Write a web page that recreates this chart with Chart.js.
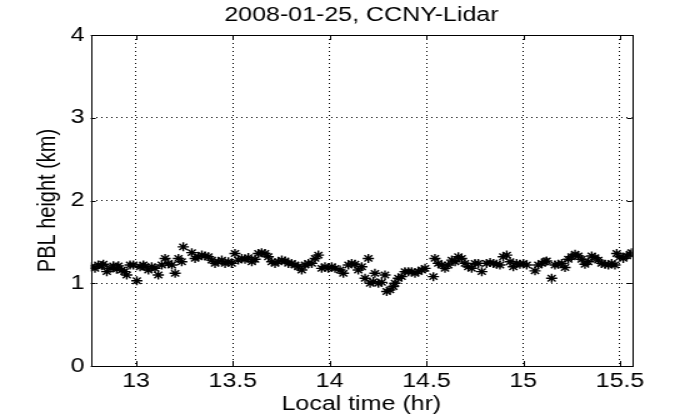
<!DOCTYPE html>
<html><head><meta charset="utf-8">
<script src="https://cdn.jsdelivr.net/npm/chart.js@4/dist/chart.umd.min.js"></script>
<style>
html,body{margin:0;padding:0;background:#fff;overflow:hidden;}
#wrap{width:560px;height:420px;transform:scaleX(1.25);transform-origin:0 0;}
canvas{display:block;}
</style></head><body>
<div id="wrap"><canvas id="c" width="560" height="420"></canvas></div>
<script>
const titleText = '2008-01-25, CCNY-Lidar';
const xLabel = 'Local time (hr)';
const yLabel = 'PBL height (km)';
const xTickValues = [13, 13.5, 14, 14.5, 15, 15.5];
const yTickValues = [0, 1, 2, 3, 4];
const times = [
 12.770,12.788,12.805,12.823,12.831,12.849,12.866,12.883,12.900,12.909,12.926,12.940,12.952,12.969,12.986,
 13.004,13.021,13.038,13.046,13.064,13.081,13.098,13.115,13.133,13.150,13.167,13.185,13.202,13.219,13.236,
 13.244,13.288,13.305,13.322,13.340,13.356,13.374,13.391,
 13.408,13.425,13.443,13.460,13.477,13.494,13.511,13.528,13.546,13.563,13.580,13.598,13.615,13.632,13.649,
 13.666,13.683,13.701,13.718,13.735,13.753,13.770,13.787,13.804,13.821,13.838,13.856,13.873,13.890,13.908,
 13.925,13.942,13.959,13.976,13.993,14.011,14.028,14.054,14.071,
 14.097,14.114,14.131,14.148,14.166,14.183,14.200,14.209,14.226,14.234,14.252,14.269,14.286,14.295,14.312,
 14.329,14.338,14.355,14.372,14.389,14.407,14.424,14.441,14.458,14.476,14.493,14.536,14.544,14.561,14.579,
 14.596,14.613,14.631,14.648,14.665,14.682,14.699,14.716,14.734,14.751,14.768,14.786,
 14.811,14.829,14.846,14.863,14.880,14.897,14.915,14.932,14.949,14.966,14.983,15.001,15.018,15.061,15.078,
 15.096,15.113,15.121,15.147,15.164,15.181,15.199,15.216,15.233,15.250,15.268,15.285,15.302,15.319,15.336,
 15.354,15.371,15.388,15.405,15.423,15.440,15.457,15.474,15.483,15.500,15.517,15.535,15.552,15.560
];
const heights = [
 1.20,1.18,1.22,1.21,1.23,1.14,1.18,1.21,1.17,1.21,1.16,1.14,1.10,1.22,1.22,
 1.03,1.20,1.22,1.20,1.16,1.20,1.18,1.10,1.22,1.30,1.24,1.22,1.12,1.30,1.26,
 1.44,1.37,1.30,1.32,1.34,1.33,1.32,1.28,
 1.24,1.26,1.28,1.24,1.26,1.24,1.36,1.28,1.30,1.29,1.31,1.26,1.29,1.36,1.37,
 1.36,1.32,1.26,1.24,1.26,1.28,1.27,1.24,1.24,1.22,1.20,1.16,1.22,1.24,1.24,
 1.30,1.34,1.18,1.20,1.18,1.20,1.18,1.16,1.12,
 1.22,1.24,1.23,1.16,1.20,1.06,1.30,1.00,1.02,1.12,1.00,1.01,1.10,0.90,0.92,
 0.96,1.00,1.06,1.08,1.14,1.14,1.14,1.12,1.14,1.16,1.18,1.08,1.30,1.24,1.22,
 1.18,1.22,1.28,1.26,1.32,1.30,1.24,1.20,1.18,1.24,1.24,1.14,
 1.24,1.25,1.24,1.23,1.22,1.32,1.34,1.26,1.20,1.24,1.23,1.24,1.22,1.15,1.22,
 1.24,1.26,1.27,1.06,1.22,1.23,1.24,1.19,1.29,1.32,1.35,1.33,1.29,1.23,1.26,
 1.33,1.31,1.28,1.24,1.23,1.22,1.24,1.22,1.36,1.32,1.30,1.33,1.35,1.37
];
const xMin = 12.766, xMax = 15.562, yMin = 0, yMax = 4;

const FONT = "'Liberation Sans', Arial, Helvetica, sans-serif";
Chart.defaults.font.family = FONT;
Chart.defaults.color = '#000';

const framePlugin = {
  id: 'frame',
  afterDraw(chart) {
    const {ctx, chartArea: a, scales: {x, y}} = chart;
    ctx.save();
    ctx.strokeStyle = '#000';
    ctx.lineWidth = 1;
    ctx.setLineDash([]);
    ctx.beginPath();
    x.ticks.forEach(t => {
      const px = Math.round(x.getPixelForValue(t.value)) + 0.5;
      ctx.moveTo(px, a.bottom); ctx.lineTo(px, a.bottom - 5);
      ctx.moveTo(px, a.top); ctx.lineTo(px, a.top + 5);
    });
    y.ticks.forEach(t => {
      const py = Math.round(y.getPixelForValue(t.value)) + 0.5;
      ctx.moveTo(a.left, py); ctx.lineTo(a.left + 4, py);
      ctx.moveTo(a.right, py); ctx.lineTo(a.right - 4, py);
    });
    ctx.stroke();
    ctx.strokeRect(Math.round(a.left) + 0.5, Math.round(a.top) + 0.5,
                   Math.round(a.right - a.left), Math.round(a.bottom - a.top));
    ctx.restore();
  }
};

new Chart(document.getElementById('c'), {
  type: 'scatter',
  data: {
    datasets: [{
      data: times.map((t, i) => ({x: t, y: heights[i]})),
      pointStyle: 'star',
      pointRadius: 4.5,
      pointBorderWidth: 1.4,
      borderColor: '#000',
      backgroundColor: '#000',
      showLine: false
    }]
  },
  options: {
    responsive: false,
    animation: false,
    devicePixelRatio: 1,
    layout: {padding: {left: 0, right: 54.4, top: 0, bottom: 0}},
    plugins: {
      legend: {display: false},
      tooltip: {enabled: false},
      title: {
        display: true, text: titleText, color: '#000', fullSize: false,
        font: {size: 20, weight: 'normal', family: FONT},
        padding: {top: 3, bottom: 8}
      }
    },
    scales: {
      x: {
        type: 'linear', min: xMin, max: xMax,
        afterFit: s => { s.height = 54; },
        afterBuildTicks: s => { s.ticks = xTickValues.map(v => ({value: v})); },
        ticks: {includeBounds: false, stepSize: 0.5, padding: 3, color: '#000',
                font: {size: 20}, maxRotation: 0, callback: v => String(v)},
        grid: {color: '#000', lineWidth: 1, drawTicks: false},
        border: {display: false, dash: [1, 3]},
        title: {display: true, text: xLabel, color: '#000', font: {size: 20},
                padding: {top: 0, bottom: 4}}
      },
      y: {
        type: 'linear', min: yMin, max: yMax,
        afterFit: s => { s.width = 72.6; },
        afterBuildTicks: s => { s.ticks = yTickValues.map(v => ({value: v})); },
        ticks: {stepSize: 1, padding: 5, color: '#000', font: {size: 20},
                callback: v => String(v)},
        grid: {color: '#000', lineWidth: 1, drawTicks: false},
        border: {display: false, dash: [1, 3]},
        title: {display: true, text: yLabel, color: '#000', font: {size: 20},
                padding: {top: 26, bottom: 0}}
      }
    }
  },
  plugins: [framePlugin]
});
</script>
</body></html>
